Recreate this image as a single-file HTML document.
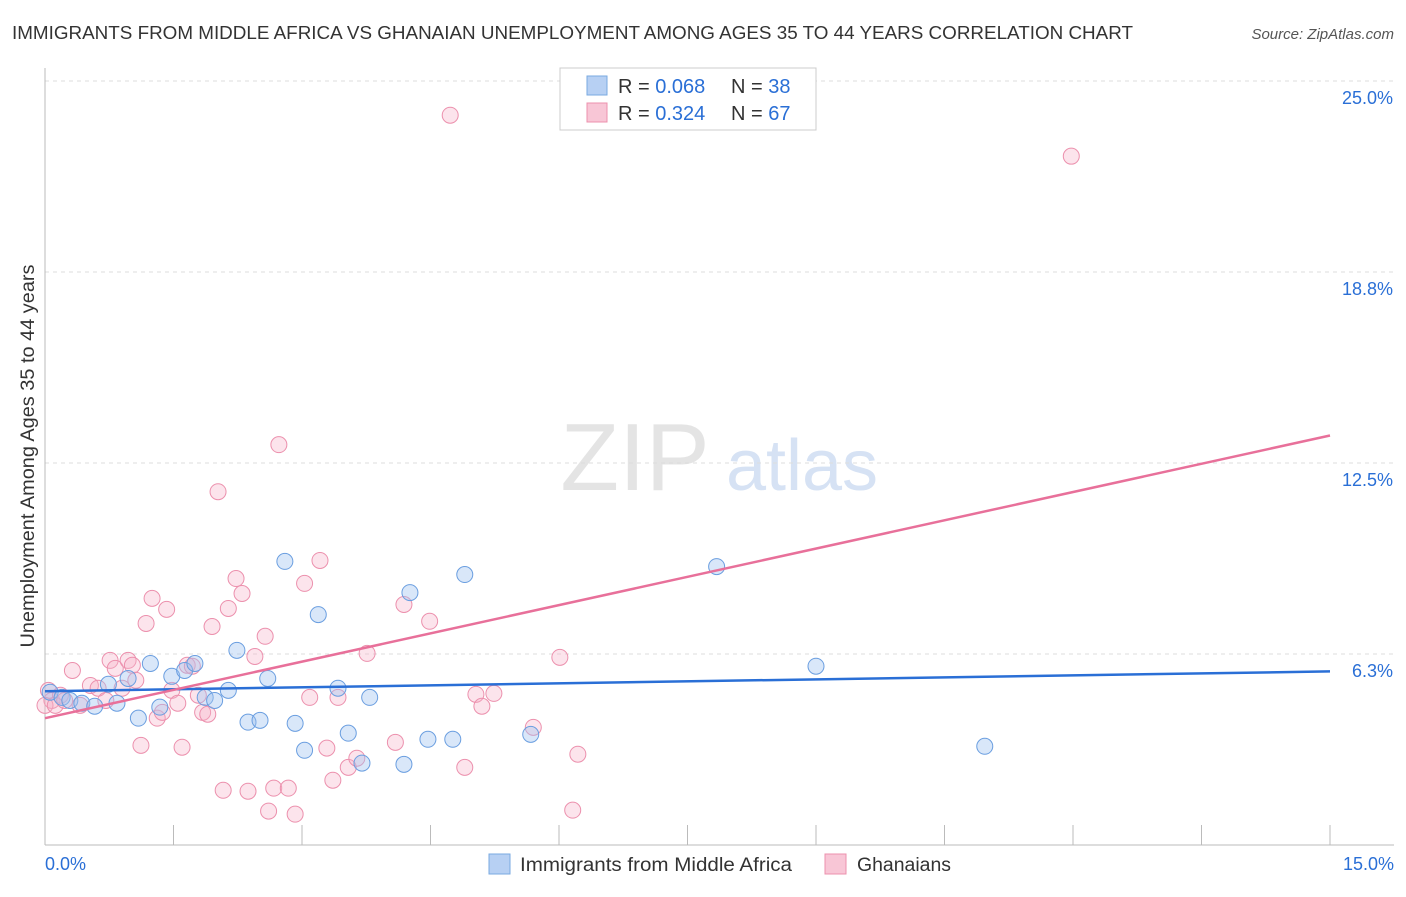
<!DOCTYPE html>
<html><head><meta charset="utf-8"><style>
body{margin:0;background:#fff;font-family:"Liberation Sans",sans-serif;}
svg text{font-family:"Liberation Sans",sans-serif;}
</style></head><body>
<svg id="chart" width="1406" height="892">
<text x="12" y="39" font-size="18.8" fill="#333" textLength="1121" lengthAdjust="spacingAndGlyphs">IMMIGRANTS FROM MIDDLE AFRICA VS GHANAIAN UNEMPLOYMENT AMONG AGES 35 TO 44 YEARS CORRELATION CHART</text>
<text x="1394" y="39" font-size="15" fill="#555" text-anchor="end" font-style="italic">Source: ZipAtlas.com</text>
<text x="34" y="456" font-size="19.5" fill="#333" text-anchor="middle" textLength="383" lengthAdjust="spacingAndGlyphs" transform="rotate(-90 34 456)">Unemployment Among Ages 35 to 44 years</text>
<g><text x="635" y="490" font-size="96" fill="#e4e4e4" text-anchor="middle" font-family="Liberation Serif">ZIP</text><text x="802" y="490" font-size="72" fill="#d6e2f4" text-anchor="middle">atlas</text></g>
<g id="grid"></g><g id="axes"></g><g id="pts"></g><g id="lines"></g>
<g>
<rect x="560" y="68" width="256" height="62" fill="#fff" stroke="#ccc"/>
<rect x="587" y="76" width="20" height="19" fill="#b7d0f3" stroke="#7aaae0"/>
<rect x="587" y="103" width="20" height="19" fill="#f8c6d6" stroke="#ec90ad"/>
<text x="618" y="93" font-size="20" fill="#333">R = <tspan fill="#2a6fd6">0.068</tspan></text><text x="731" y="93" font-size="20" fill="#333">N = <tspan fill="#2a6fd6">38</tspan></text>
<text x="618" y="120" font-size="20" fill="#333">R = <tspan fill="#2a6fd6">0.324</tspan></text><text x="731" y="120" font-size="20" fill="#333">N = <tspan fill="#2a6fd6">67</tspan></text>
</g>
<g>
<rect x="489" y="854" width="21" height="20" fill="#b7d0f3" stroke="#7aaae0"/><text x="520" y="871" font-size="19" fill="#333" textLength="272" lengthAdjust="spacingAndGlyphs">Immigrants from Middle Africa</text>
<rect x="825" y="854" width="21" height="20" fill="#f8c6d6" stroke="#ec90ad"/><text x="857" y="871" font-size="19" fill="#333" textLength="94" lengthAdjust="spacingAndGlyphs">Ghanaians</text>
</g>
</svg>
<script>
const blueX=[0.06,0.20,0.29,0.43,0.58,0.74,0.84,0.97,1.09,1.23,1.34,1.48,1.63,1.75,1.87,1.98,2.14,2.24,2.37,2.51,2.60,2.80,2.92,3.03,3.19,3.42,3.54,3.70,3.79,4.19,4.26,4.47,4.76,4.90,5.67,7.84,9.00,10.97];
const blueY=[5.00,4.83,4.73,4.64,4.54,5.26,4.64,5.45,4.15,5.94,4.51,5.52,5.71,5.94,4.83,4.73,5.06,6.37,4.02,4.08,5.45,9.28,3.98,3.10,7.54,5.13,3.66,2.68,4.83,2.64,8.26,3.46,3.46,8.85,3.62,9.11,5.85,3.23];
const pinkX=[0.04,0.08,0.18,0.32,0.41,0.53,0.62,0.71,0.76,0.82,0.90,0.97,1.02,1.06,1.12,1.18,1.25,1.31,1.37,1.42,1.48,1.55,1.60,1.66,1.72,1.79,1.84,1.90,1.95,2.02,2.08,2.14,2.23,2.30,2.37,2.45,2.57,2.61,2.67,2.73,2.84,2.92,3.03,3.09,3.21,3.29,3.36,3.42,3.54,3.64,3.76,4.09,4.19,4.49,4.73,4.90,5.03,5.10,5.24,5.70,6.01,6.16,6.22,11.98,0.00,0.12,0.23];
const pinkY=[5.06,4.73,4.90,5.71,4.57,5.22,5.13,4.73,6.04,5.78,5.13,6.04,5.88,5.39,3.26,7.25,8.07,4.15,4.34,7.71,5.06,4.64,3.20,5.88,5.85,4.90,4.34,4.28,7.15,11.56,1.79,7.74,8.72,8.23,1.76,6.17,6.83,1.11,1.86,13.10,1.86,1.01,8.56,4.83,9.31,3.17,2.12,4.83,2.54,2.84,6.27,3.36,7.87,7.32,23.88,2.54,4.93,4.54,4.96,3.85,6.14,1.14,2.97,22.54,4.57,4.57,4.73];
const blueTrend=[5.03,5.68];
const pinkTrend=[4.15,13.40];
const yTicks=[6.25,12.5,18.75,25];
const yTickLabels=["6.3%","12.5%","18.8%","25.0%"];
const xTicks=[0,1.5,3,4.5,6,7.5,9,10.5,12,13.5,15];
const xEndLabels=["0.0%","15.0%"];
const NS="http://www.w3.org/2000/svg";
const X=v=>45+v*(1285/15);
const Y=v=>845-v*(191/6.25);
function mk(t,a,p){const e=document.createElementNS(NS,t);for(const k in a)e.setAttribute(k,a[k]);p.appendChild(e);return e;}
const grid=document.getElementById('grid'),axes=document.getElementById('axes'),pts=document.getElementById('pts'),lines=document.getElementById('lines');
yTicks.forEach((v,i)=>{
 const l=mk('line',{x1:45,x2:1394,y1:Y(v),y2:Y(v),stroke:'#ddd','stroke-dasharray':'4,4'},grid);
 
 
 const t=mk('text',{x:1393,y:Y(v)+23,'font-size':18,fill:'#2a6fd6','text-anchor':'end'},axes);t.textContent=yTickLabels[i];
 
 
});
const ax=mk('line',{x1:45,x2:1394,y1:845,y2:845,stroke:'#bbb'},axes);


const ay=mk('line',{x1:45,x2:45,y1:68,y2:845,stroke:'#bbb'},axes);


xTicks.forEach(v=>{const t=mk('line',{x1:X(v),x2:X(v),y1:825,y2:845,stroke:'#bbb'},axes);
 
 });
const l0=mk('text',{x:45,y:870,'font-size':18,fill:'#2a6fd6'},axes);l0.textContent=xEndLabels[0];


const l1=mk('text',{x:1394,y:870,'font-size':18,fill:'#2a6fd6','text-anchor':'end'},axes);l1.textContent=xEndLabels[1];


pinkX.forEach((x,i)=>{const c=mk('circle',{cx:X(x),cy:Y(pinkY[i]),r:8,fill:'rgba(246,178,200,0.35)',stroke:'#ec90ad','stroke-width':1},pts);
 
 });
blueX.forEach((x,i)=>{const c=mk('circle',{cx:X(x),cy:Y(blueY[i]),r:8,fill:'rgba(160,195,240,0.4)',stroke:'#6a9ee0','stroke-width':1},pts);
 
 });
const bl=mk('line',{x1:X(0),x2:X(15),y1:Y(blueTrend[0]),y2:Y(blueTrend[1]),stroke:'#2a6fd6','stroke-width':2.5},lines);


const pl=mk('line',{x1:X(0),x2:X(15),y1:Y(pinkTrend[0]),y2:Y(pinkTrend[1]),stroke:'#e8709a','stroke-width':2.5},lines);


</script>
</body></html>
